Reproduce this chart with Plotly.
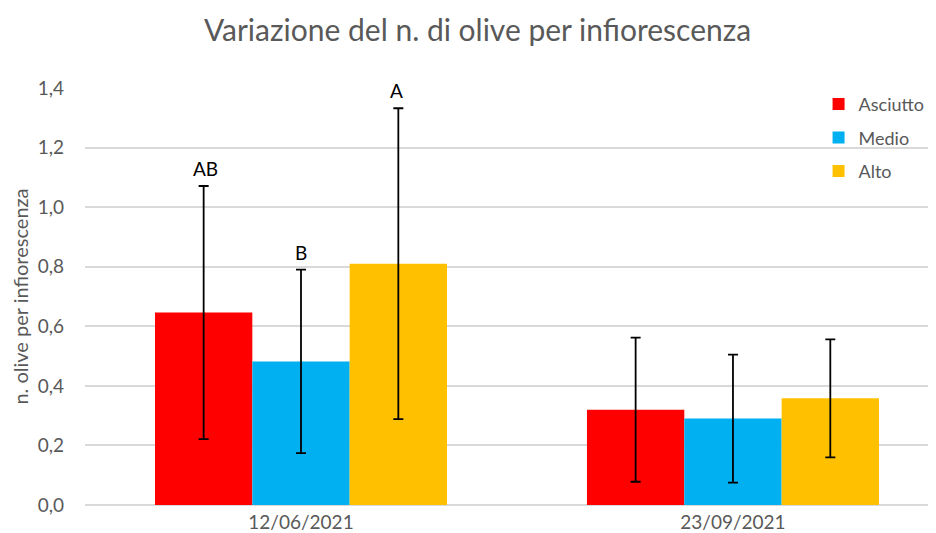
import plotly.graph_objects as go

# data
dates = ['12/06/2021', '23/09/2021']
asciutto = [0.646, 0.320]
medio = [0.482, 0.290]
alto = [0.810, 0.358]
asciutto_err = [0.425, 0.242]
medio_err = [0.308, 0.215]
alto_err = [0.522, 0.198]
letters = ['AB', 'B', 'A']  # only for first date

series = [
    ('Asciutto', asciutto, asciutto_err, '#FF0000'),
    ('Medio', medio, medio_err, '#00B0F0'),
    ('Alto', alto, alto_err, '#FFC000'),
]

font = 'Lato, Open Sans, sans-serif'
grey = '#595959'

fig = go.Figure()
for name, vals, errs, col in series:
    fig.add_trace(go.Bar(
        x=dates, y=vals, name=name, legendgroup=name, marker_color=col, marker_line_width=0,
        error_y=dict(type='data', array=errs, color='black', thickness=1.8, width=5),
    ))

# significance letters above the first-date error bars
offsets = [-0.222, 0, 0.222]
for (name, vals, errs, col), off, lab in zip(series, offsets, letters):
    fig.add_annotation(x=off, y=vals[0] + errs[0], text=lab, showarrow=False,
                       xref='x', yref='y', yanchor='bottom', yshift=4,
                       font=dict(size=19, color='black', family=font))

# page body has an 8px margin, so the figure is offset by 8px
fig.update_layout(
    title=dict(text='Variazione del n. di olive per infiorescenza', x=0.506, xanchor='center',
               y=0.958, yanchor='middle', font=dict(size=30, color=grey, family=font)),
    barmode='group', bargap=0.324, bargroupgap=0,
    plot_bgcolor='white', paper_bgcolor='white',
    width=928, height=525,
    margin=dict(l=77, r=0, t=80, b=28, autoexpand=False),
    font=dict(family=font, color=grey, size=18),
    legend=dict(x=0.862, y=1.005, xanchor='left', yanchor='top', bgcolor='rgba(0,0,0,0)',
                font=dict(size=18, color=grey), itemwidth=30, tracegroupgap=7,
                traceorder='grouped'),
    showlegend=True,
)
fig.update_xaxes(range=[-0.5, 1.47], showgrid=False, ticks='', showline=False,
                 ticklabelstandoff=4, tickfont=dict(size=19, color=grey))
fig.update_yaxes(range=[0, 1.4], dtick=0.2, tickformat='.1f', showgrid=True,
                 gridcolor='#D9D9D9', gridwidth=1.5, zeroline=True, zerolinecolor='#D9D9D9',
                 zerolinewidth=1.5, ticks='', ticklabelstandoff=20,
                 tickfont=dict(size=19, color=grey),
                 title=dict(text='n. olive per infiorescenza', font=dict(size=20, color=grey), standoff=7))
fig.update_layout(separators=',.')

fig.write_html('out.html')
